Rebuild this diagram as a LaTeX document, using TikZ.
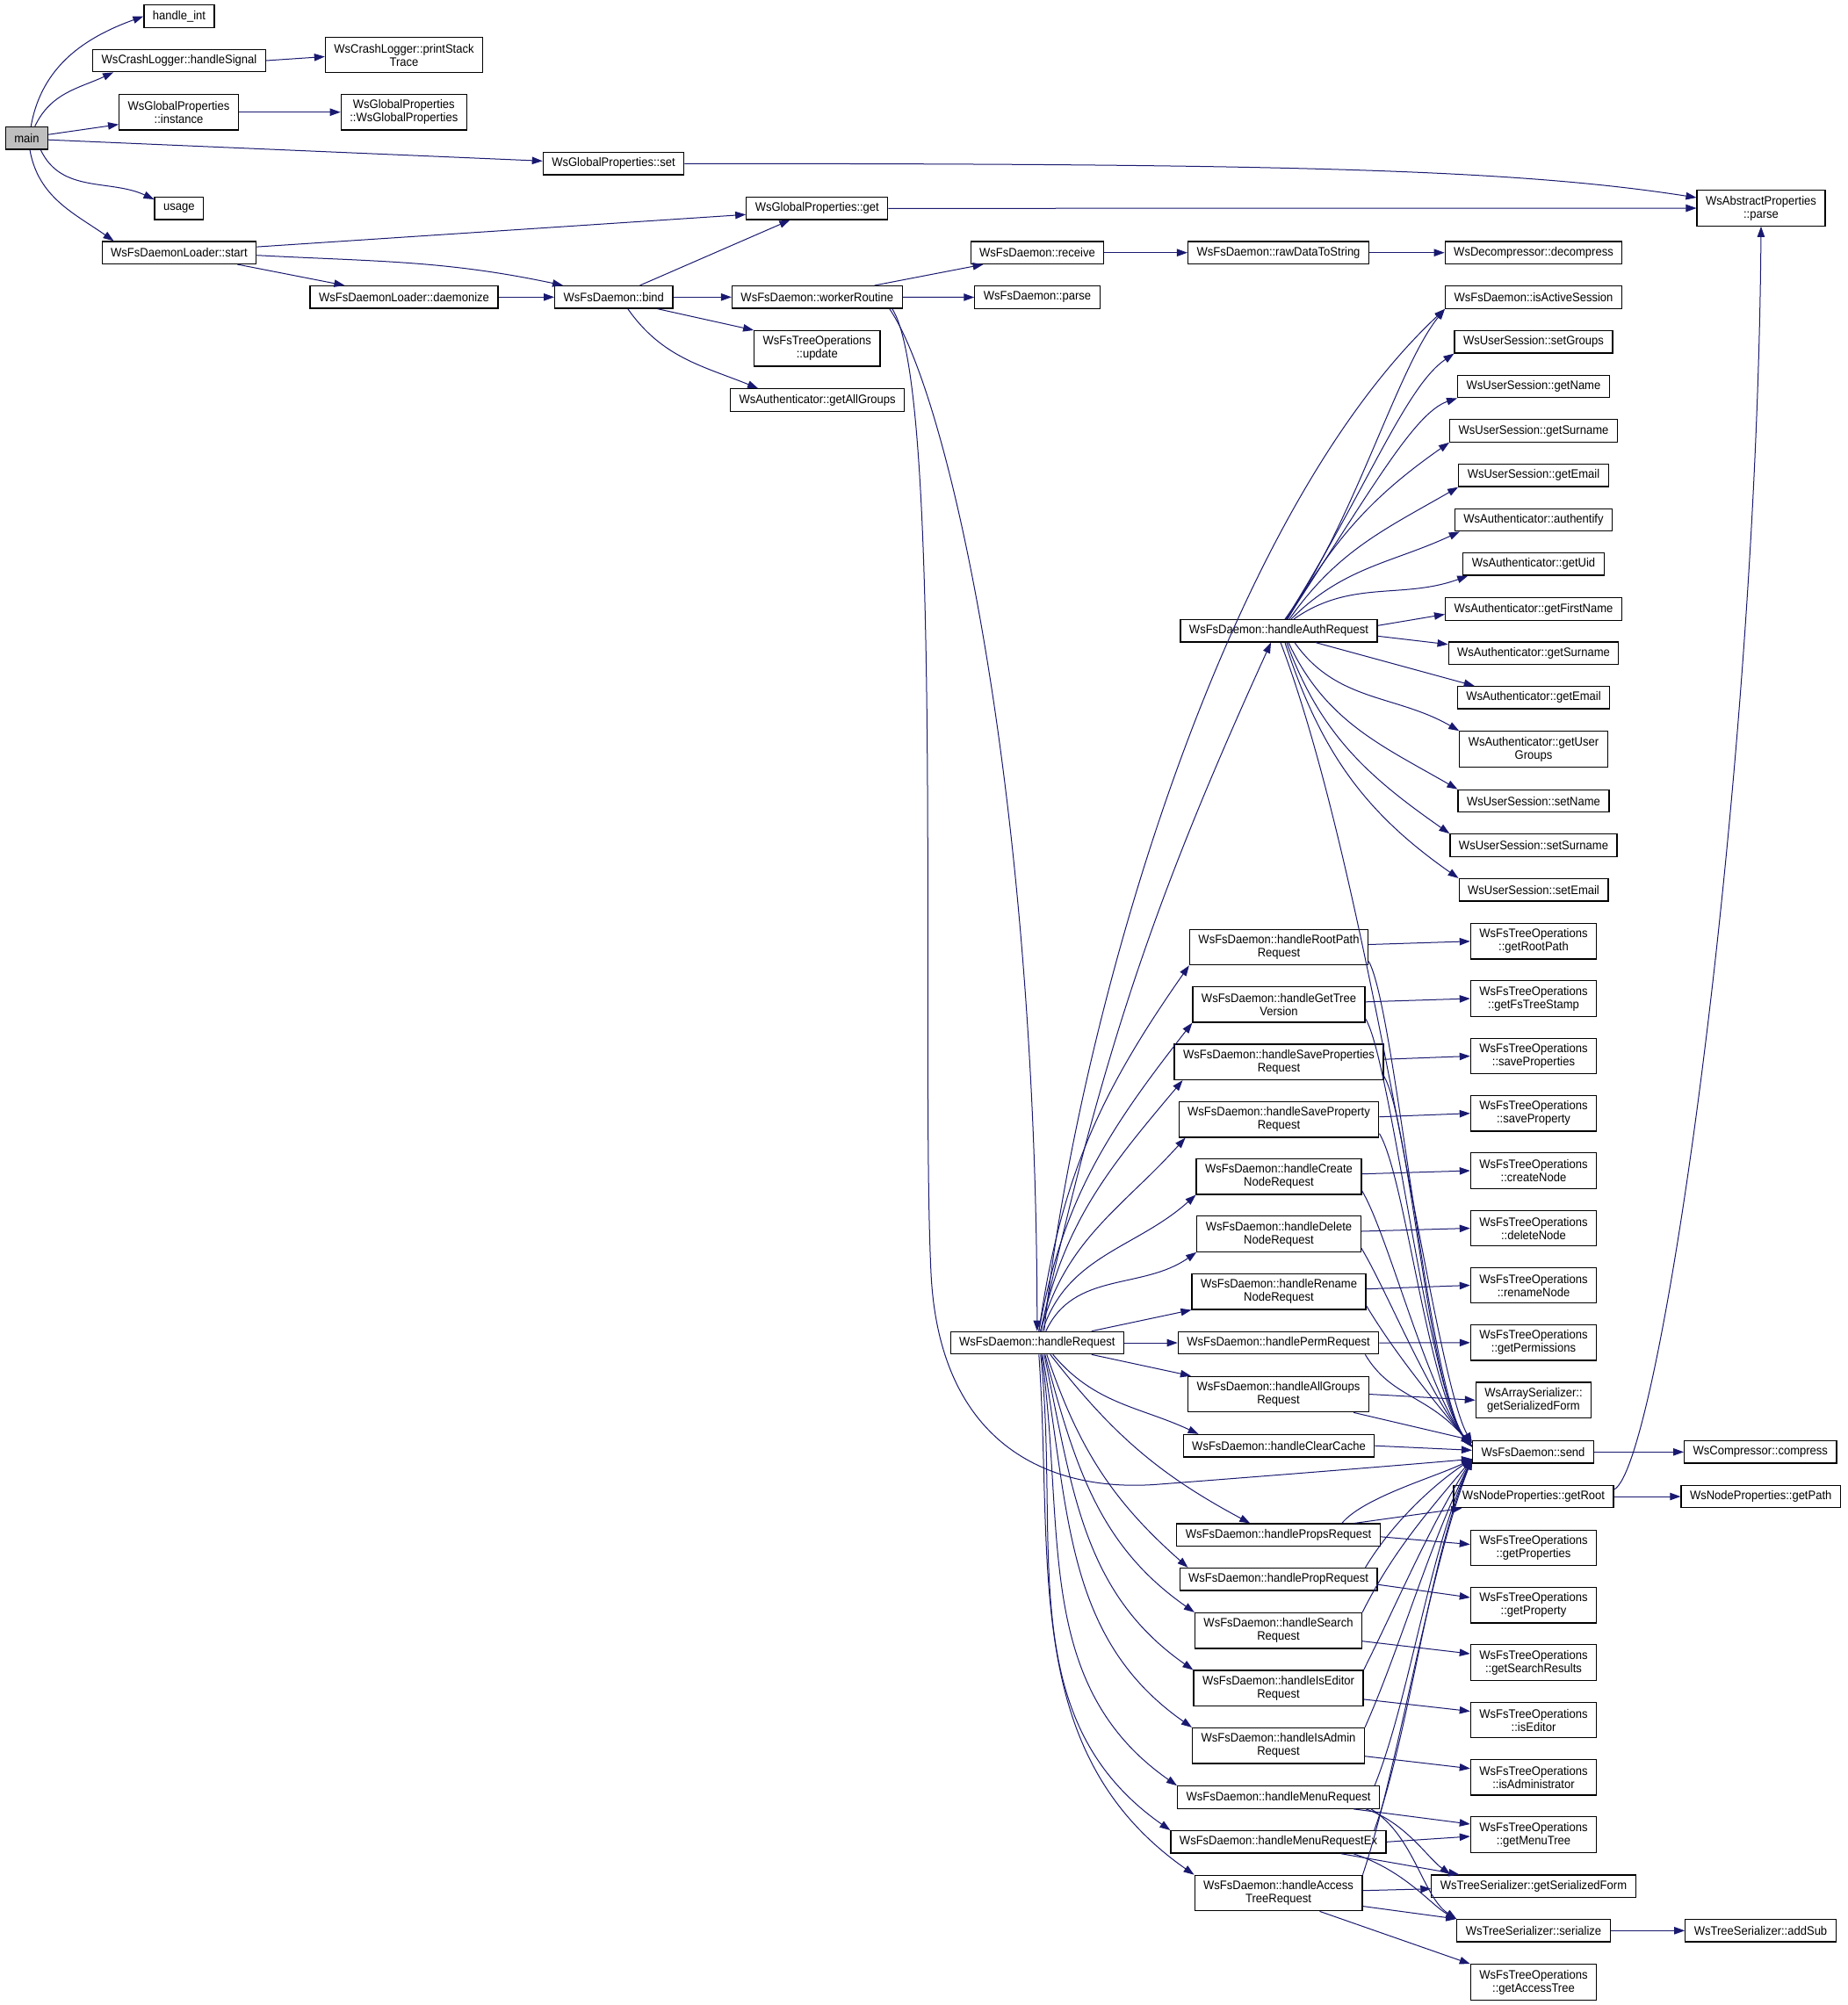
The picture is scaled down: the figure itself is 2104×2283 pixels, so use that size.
\documentclass[tikz,border=0pt]{standalone}
\usepackage{fontspec}
\setmainfont{Liberation Sans}[FakeStretch=0.93]
\usetikzlibrary{arrows.meta}
\definecolor{edgeblue}{HTML}{191970}
\tikzset{
  fn/.style={draw=black, line width=0.6pt, fill=white, font=\fontsize{7}{7.5}\selectfont, inner xsep=5pt, inner ysep=0pt, minimum height=12.75pt, align=center},
  fntwo/.style={fn, minimum height=20.25pt},
  call/.style={draw=edgeblue, line width=0.5pt, -{Triangle[length=6pt,width=4.2pt]}},
}

\begin{document}
\begin{tikzpicture}[x=0.5pt,y=0.5pt]
\fill[white] (0,0) rectangle (2104,-2283);
\useasboundingbox (0,0) rectangle (2104,-2283);
\node[fn, fill=black!25] (main) at (30.4,-157.2) {main};
\node[fn] (hint) at (204,-18.5) {handle\_int};
\node[fn] (hsig) at (204,-69) {WsCrashLogger::handleSignal};
\node[fntwo] (pst) at (460,-62.5) {WsCrashLogger::printStack\\Trace};
\node[fntwo] (gpinst) at (203.5,-127.7) {WsGlobalProperties\\::instance};
\node[fntwo] (gpctor) at (459.8,-127.7) {WsGlobalProperties\\::WsGlobalProperties};
\node[fn] (gpset) at (698.5,-186.3) {WsGlobalProperties::set};
\node[fn] (usage) at (203.8,-237.3) {usage};
\node[fn] (gpget) at (930.3,-237.3) {WsGlobalProperties::get};
\node[fn] (start) at (203.9,-287.7) {WsFsDaemonLoader::start};
\node[fntwo] (apparse) at (2005,-237) {WsAbstractProperties\\::parse};
\node[fn] (daemonize) at (460,-338.3) {WsFsDaemonLoader::daemonize};
\node[fn] (bind) at (698.8,-338.3) {WsFsDaemon::bind};
\node[fn] (worker) at (930.3,-338.3) {WsFsDaemon::workerRoutine};
\node[fn] (receive) at (1181,-287.7) {WsFsDaemon::receive};
\node[fn] (rawdata) at (1455.5,-287.7) {WsFsDaemon::rawDataToString};
\node[fn] (decomp) at (1746,-287.7) {WsDecompressor::decompress};
\node[fn] (dparse) at (1181,-338.5) {WsFsDaemon::parse};
\node[fntwo] (update) at (930.3,-396.8) {WsFsTreeOperations\\::update};
\node[fn] (allgroups) at (930.7,-455.5) {WsAuthenticator::getAllGroups};
\node[fn] (active) at (1746,-338.5) {WsFsDaemon::isActiveSession};
\node[fn] (setgroups) at (1746,-389.3) {WsUserSession::setGroups};
\node[fn] (getname) at (1746,-440) {WsUserSession::getName};
\node[fn] (getsurname) at (1746,-490.5) {WsUserSession::getSurname};
\node[fn] (getemail) at (1746,-541.3) {WsUserSession::getEmail};
\node[fn] (authentify) at (1746,-592) {WsAuthenticator::authentify};
\node[fn] (getuid) at (1746,-642.3) {WsAuthenticator::getUid};
\node[fn] (firstname) at (1746,-693.5) {WsAuthenticator::getFirstName};
\node[fn] (asurname) at (1746,-743.7) {WsAuthenticator::getSurname};
\node[fn] (aemail) at (1746,-794.3) {WsAuthenticator::getEmail};
\node[fntwo] (usergroups) at (1746,-853) {WsAuthenticator::getUser\\Groups};
\node[fn] (setname) at (1746,-912) {WsUserSession::setName};
\node[fn] (setsurname) at (1746,-962.5) {WsUserSession::setSurname};
\node[fn] (setemail) at (1746,-1013.3) {WsUserSession::setEmail};
\node[fn] (hauth) at (1456,-718.3) {WsFsDaemon::handleAuthRequest};
\node[fn] (hreq) at (1180.8,-1529) {WsFsDaemon::handleRequest};
\node[fntwo] (hroot) at (1456,-1078.5) {WsFsDaemon::handleRootPath\\Request};
\node[fntwo] (htree) at (1456,-1143.8) {WsFsDaemon::handleGetTree\\Version};
\node[fntwo] (hsaveps) at (1456,-1209.2) {WsFsDaemon::handleSaveProperties\\Request};
\node[fntwo] (hsavep) at (1456,-1274.7) {WsFsDaemon::handleSaveProperty\\Request};
\node[fntwo] (hcreate) at (1456,-1339.7) {WsFsDaemon::handleCreate\\NodeRequest};
\node[fntwo] (hdelete) at (1456,-1405) {WsFsDaemon::handleDelete\\NodeRequest};
\node[fntwo] (hrename) at (1456,-1470.7) {WsFsDaemon::handleRename\\NodeRequest};
\node[fn] (hperm) at (1455.5,-1529) {WsFsDaemon::handlePermRequest};
\node[fntwo] (hallgr) at (1455.5,-1587.5) {WsFsDaemon::handleAllGroups\\Request};
\node[fn] (hclear) at (1456,-1646.2) {WsFsDaemon::handleClearCache};
\node[fn] (hprops) at (1455.5,-1747.8) {WsFsDaemon::handlePropsRequest};
\node[fn] (hprop) at (1455.5,-1798.2) {WsFsDaemon::handlePropRequest};
\node[fntwo] (hsearch) at (1455.5,-1856.7) {WsFsDaemon::handleSearch\\Request};
\node[fntwo] (heditor) at (1455.5,-1922.3) {WsFsDaemon::handleIsEditor\\Request};
\node[fntwo] (hadmin) at (1455.5,-1987.7) {WsFsDaemon::handleIsAdmin\\Request};
\node[fn] (hmenu) at (1455.5,-2046.5) {WsFsDaemon::handleMenuRequest};
\node[fn] (hmenuex) at (1455.5,-2097.3) {WsFsDaemon::handleMenuRequestEx};
\node[fntwo] (haccess) at (1455.5,-2155.5) {WsFsDaemon::handleAccess\\TreeRequest};
\node[fntwo] (oroot) at (1746,-1071.8) {WsFsTreeOperations\\::getRootPath};
\node[fntwo] (ostamp) at (1746,-1137) {WsFsTreeOperations\\::getFsTreeStamp};
\node[fntwo] (osaveps) at (1746,-1202.5) {WsFsTreeOperations\\::saveProperties};
\node[fntwo] (osavep) at (1746,-1267.7) {WsFsTreeOperations\\::saveProperty};
\node[fntwo] (ocreate) at (1746,-1333) {WsFsTreeOperations\\::createNode};
\node[fntwo] (odelete) at (1746,-1398.5) {WsFsTreeOperations\\::deleteNode};
\node[fntwo] (orename) at (1746,-1463.5) {WsFsTreeOperations\\::renameNode};
\node[fntwo] (operm) at (1746,-1528.8) {WsFsTreeOperations\\::getPermissions};
\node[fntwo] (arrayser) at (1746,-1594.3) {WsArraySerializer::\\getSerializedForm};
\node[fn] (send) at (1745.5,-1653.3) {WsFsDaemon::send};
\node[fn] (compress) at (2004.3,-1653.3) {WsCompressor::compress};
\node[fn] (getroot) at (1746,-1704) {WsNodeProperties::getRoot};
\node[fn] (getpath) at (2004.7,-1704) {WsNodeProperties::getPath};
\node[fntwo] (oprops) at (1746,-1762.5) {WsFsTreeOperations\\::getProperties};
\node[fntwo] (oprop) at (1746,-1827.8) {WsFsTreeOperations\\::getProperty};
\node[fntwo] (osearch) at (1746,-1893) {WsFsTreeOperations\\::getSearchResults};
\node[fntwo] (oeditor) at (1746,-1958.5) {WsFsTreeOperations\\::isEditor};
\node[fntwo] (oadmin) at (1746,-2023.7) {WsFsTreeOperations\\::isAdministrator};
\node[fntwo] (omenu) at (1746,-2089) {WsFsTreeOperations\\::getMenuTree};
\node[fn] (treeser) at (1746,-2147.7) {WsTreeSerializer::getSerializedForm};
\node[fn] (serialize) at (1746,-2198.3) {WsTreeSerializer::serialize};
\node[fn] (addsub) at (2004.5,-2198.3) {WsTreeSerializer::addSub};
\node[fntwo] (oaccess) at (1746,-2257) {WsFsTreeOperations\\::getAccessTree};

\draw[call] (main.70) to[out=80,in=200] (hint.west);
\draw[call] (main.55) to[out=65,in=205] ([xshift=12pt]hsig.south west);
\draw[call] ([yshift=2pt]main.east) -- ([yshift=-7pt]gpinst.west);
\draw[call] ([yshift=-1pt]main.east) -- ([yshift=1.5pt]gpset.west);
\draw[call] (main.-40) to[out=-65,in=155] (usage.160);
\draw[call] (main.-75) to[out=-80,in=145] ([xshift=7pt]start.north west);
\draw[call] (hsig.east) -- ([yshift=-1pt]pst.west);
\draw[call] (gpinst.east) -- (gpctor.west);
\draw[call] (gpset.east) .. controls (1450,-186.3) and (1720,-192) .. ([yshift=6pt]apparse.west);
\draw[call] ([yshift=3.3pt]start.east) -- ([yshift=-3.5pt]gpget.west);
\draw[call] ([xshift=-11pt]start.south east) -- ([xshift=20pt]daemonize.north west);
\draw[call] ([yshift=-1.5pt]start.east) to[out=-3,in=168] ([xshift=5pt]bind.north west);
\draw[call] (gpget.east) -- (apparse.west);
\draw[call] (daemonize.east) -- (bind.west);
\draw[call] ([xshift=-19pt]bind.north east) -- ([xshift=-15.5pt]gpget.south);
\draw[call] (bind.east) -- (worker.west);
\draw[call] ([xshift=-9pt]bind.south east) -- (update.north west);
\draw[call] ([xshift=8pt]bind.south) to[out=-55,in=158] ([xshift=16pt]allgroups.north west);
\draw[call] ([xshift=-16pt]worker.north east) -- ([xshift=7.5pt]receive.south west);
\draw[call] (worker.east) -- (dparse.west);
\draw[call] (receive.east) -- (rawdata.west);
\draw[call] (rawdata.east) -- (decomp.west);
\draw[call] ([xshift=-7.5pt]worker.south east) .. controls (1080,-450) and (1180,-900) .. (hreq.north);
\draw[call] ([xshift=-6pt]worker.south east) .. controls (1075,-440) and (1048,-1200) .. (1060,-1450) .. controls (1070,-1650) and (1200,-1700) .. (1320,-1690) .. controls (1450,-1680) and (1600,-1668) .. ([yshift=-4pt]send.west);

\draw[call] ([xshift=2pt]hreq.north) to[bend left=6] ([xshift=-4.5pt]hauth.south);
\draw[call] ([xshift=4pt]hreq.north) .. controls (1220,-1200) and (1380,-600) .. (active.south west);
\draw[call] ([xshift=1pt]hreq.north) to[out=82,in=235] (hroot.south west);
\draw[call] ([xshift=1pt]hreq.north) to[out=80,in=232] (htree.south west);
\draw[call] ([xshift=2pt]hreq.north) to[out=78,in=230] ([xshift=5pt]hsaveps.south west);
\draw[call] ([xshift=2pt]hreq.north) to[out=75,in=228] ([xshift=4pt]hsavep.south west);
\draw[call] ([xshift=3pt]hreq.north) to[out=72,in=222] (hcreate.south west);
\draw[call] ([xshift=5pt]hreq.north) to[out=65,in=215] (hdelete.south west);
\draw[call] ([xshift=31pt]hreq.north) -- (hrename.south west);
\draw[call] (hreq.east) -- (hperm.west);
\draw[call] ([xshift=31pt]hreq.south) -- ([xshift=2pt]hallgr.north west);
\draw[call] ([xshift=9pt]hreq.south) to[out=-50,in=155] ([xshift=9pt]hclear.north west);
\draw[call] ([xshift=7.5pt]hreq.south) to[bend right=12] ([xshift=42pt]hprops.north west);
\draw[call] ([xshift=5.5pt]hreq.south) to[bend right=15] ([xshift=5pt]hprop.north west);
\draw[call] ([xshift=4.5pt]hreq.south) to[out=-75,in=145] (hsearch.north west);
\draw[call] ([xshift=4pt]hreq.south) to[out=-78,in=145] (heditor.north west);
\draw[call] ([xshift=3pt]hreq.south) to[out=-80,in=145] (hadmin.north west);
\draw[call] ([xshift=2.5pt]hreq.south) to[out=-82,in=145] (hmenu.north west);
\draw[call] ([xshift=2pt]hreq.south) to[out=-84,in=145] (hmenuex.north west);
\draw[call] ([xshift=1pt]hreq.south) to[out=-86,in=145] (haccess.north west);

\draw[call] ([xshift=3.5pt]hauth.north) .. controls (1540,-600) and (1590,-420) .. (active.south west);
\draw[call] ([xshift=4pt]hauth.north) .. controls (1555,-560) and (1600,-440) .. (setgroups.south west);
\draw[call] ([xshift=4.5pt]hauth.north) .. controls (1560,-560) and (1610,-470) .. (getname.south west);
\draw[call] ([xshift=5pt]hauth.north) to[out=60,in=215] (getsurname.south west);
\draw[call] ([xshift=6pt]hauth.north) to[out=55,in=210] (getemail.south west);
\draw[call] ([xshift=7pt]hauth.north) to[out=45,in=205] ([xshift=3pt]authentify.south west);
\draw[call] ([xshift=8.5pt]hauth.north) to[out=35,in=200] ([xshift=3pt]getuid.south west);
\draw[call] ([yshift=3pt]hauth.east) -- ([yshift=-3pt]firstname.west);
\draw[call] ([yshift=-3pt]hauth.east) -- ([yshift=5pt]asurname.west);
\draw[call] ([xshift=21pt]hauth.south) -- ([xshift=10pt]aemail.north west);
\draw[call] ([xshift=9pt]hauth.south) to[out=-55,in=150] (usergroups.north west);
\draw[call] ([xshift=5.5pt]hauth.south) to[out=-65,in=150] (setname.north west);
\draw[call] ([xshift=4.5pt]hauth.south) to[out=-70,in=145] (setsurname.north west);
\draw[call] ([xshift=3.5pt]hauth.south) to[out=-72,in=145] (setemail.north west);
\draw[call] ([xshift=1pt]hauth.south) .. controls (1560,-1000) and (1630,-1560) .. ([yshift=5pt]send.west);

\draw[call] ([yshift=1.5pt]hroot.east) -- (oroot.west);
\draw[call] ([yshift=1.5pt]htree.east) -- (ostamp.west);
\draw[call] ([yshift=1.5pt]hsaveps.east) -- (osaveps.west);
\draw[call] ([yshift=1.5pt]hsavep.east) -- (osavep.west);
\draw[call] ([yshift=1.5pt]hcreate.east) -- (ocreate.west);
\draw[call] ([yshift=1.5pt]hdelete.east) -- (odelete.west);
\draw[call] ([yshift=1.5pt]hrename.east) -- (orename.west);
\draw[call] (hperm.east) -- (operm.west);
\draw[call] (hallgr.east) -- (arrayser.west);
\draw[call] ([yshift=-1pt]hprops.east) -- ([yshift=2pt]oprops.west);
\draw[call] ([yshift=-3pt]hprop.east) -- ([yshift=4.4pt]oprop.west);
\draw[call] ([yshift=-6pt]hsearch.east) -- ([yshift=5pt]osearch.west);
\draw[call] ([yshift=-6.3pt]heditor.east) -- ([yshift=5pt]oeditor.west);
\draw[call] ([yshift=-6pt]hadmin.east) -- ([yshift=5pt]oadmin.west);
\draw[call] ([xshift=-15pt]hmenu.south east) -- ([yshift=6pt]omenu.west);
\draw[call] (hmenuex.east) -- ([yshift=-1pt]omenu.west);
\draw[call] ([xshift=-8pt]hmenu.south east) .. controls (1600,-2075) and (1625,-2115) .. ([xshift=11pt]treeser.north west);
\draw[call] ([xshift=-5pt]hmenu.south east) .. controls (1610,-2090) and (1620,-2160) .. (serialize.north west);
\draw[call] ([xshift=-26pt]hmenuex.south east) -- ([xshift=16pt]treeser.north west);
\draw[call] ([xshift=-19pt]hmenuex.south east) .. controls (1600,-2130) and (1630,-2170) .. (serialize.north west);
\draw[call] ([yshift=1.4pt]haccess.east) -- ([yshift=-1.5pt]treeser.west);
\draw[call] ([yshift=-7.5pt]haccess.east) -- (serialize.north west);
\draw[call] ([xshift=-24.5pt]haccess.south east) -- (oaccess.north west);

\draw[call] ([yshift=-8pt]hroot.east) .. controls +(30,-50) and +(-50,60) .. ([yshift=3pt]send.west);
\draw[call] ([yshift=-8pt]htree.east) .. controls +(30,-50) and +(-50,60) .. ([yshift=3pt]send.west);
\draw[call] ([yshift=-8pt]hsaveps.east) .. controls +(30,-50) and +(-50,60) .. ([yshift=3pt]send.west);
\draw[call] ([yshift=-8pt]hsavep.east) .. controls +(30,-50) and +(-50,60) .. ([yshift=3pt]send.west);
\draw[call] ([yshift=-8pt]hcreate.east) .. controls +(30,-50) and +(-50,60) .. ([yshift=3pt]send.west);
\draw[call] ([yshift=-8pt]hdelete.east) .. controls +(30,-50) and +(-50,60) .. ([yshift=3pt]send.west);
\draw[call] ([yshift=-8pt]hrename.east) .. controls +(30,-50) and +(-50,60) .. ([yshift=3pt]send.west);
\draw[call] ([xshift=-8pt]hperm.south east) .. controls +(30,-50) and +(-50,60) .. ([yshift=3pt]send.west);
\draw[call] ([xshift=-9pt]hallgr.south east) -- (send.north west);
\draw[call] (hclear.east) -- ([yshift=1pt]send.west);
\draw[call] ([xshift=-22pt]hprops.north east) .. controls +(25,30) and +(-40,-20) .. ([yshift=-4pt]send.west);
\draw[call] ([xshift=-7pt]hprop.north east) .. controls +(30,50) and +(-45,-30) .. ([yshift=-4pt]send.west);
\draw[call] (hsearch.north east) .. controls +(35,70) and +(-50,-60) .. ([yshift=-4pt]send.west);
\draw[call] (heditor.north east) .. controls +(40,80) and +(-50,-80) .. ([yshift=-4pt]send.west);
\draw[call] (hadmin.north east) .. controls +(40,90) and +(-50,-100) .. ([yshift=-4pt]send.west);
\draw[call] ([xshift=-3pt]hmenu.north east) .. controls +(40,100) and +(-50,-110) .. ([yshift=-4pt]send.west);
\draw[call] ([xshift=-7pt]hmenuex.north east) .. controls +(40,110) and +(-50,-120) .. ([yshift=-4pt]send.west);
\draw[call] (haccess.north east) .. controls +(40,120) and +(-50,-130) .. ([yshift=-4pt]send.west);
\draw[call] ([xshift=-15pt]hprops.north east) -- ([xshift=5pt]getroot.south west);

\draw[call] (send.east) -- (compress.west);
\draw[call] (getroot.east) -- (getpath.west);
\draw[call] ([yshift=4pt]getroot.east) .. controls (1890,-1670) and (2000,-900) .. (apparse.south);
\draw[call] (serialize.east) -- (addsub.west);
\end{tikzpicture}
\end{document}
